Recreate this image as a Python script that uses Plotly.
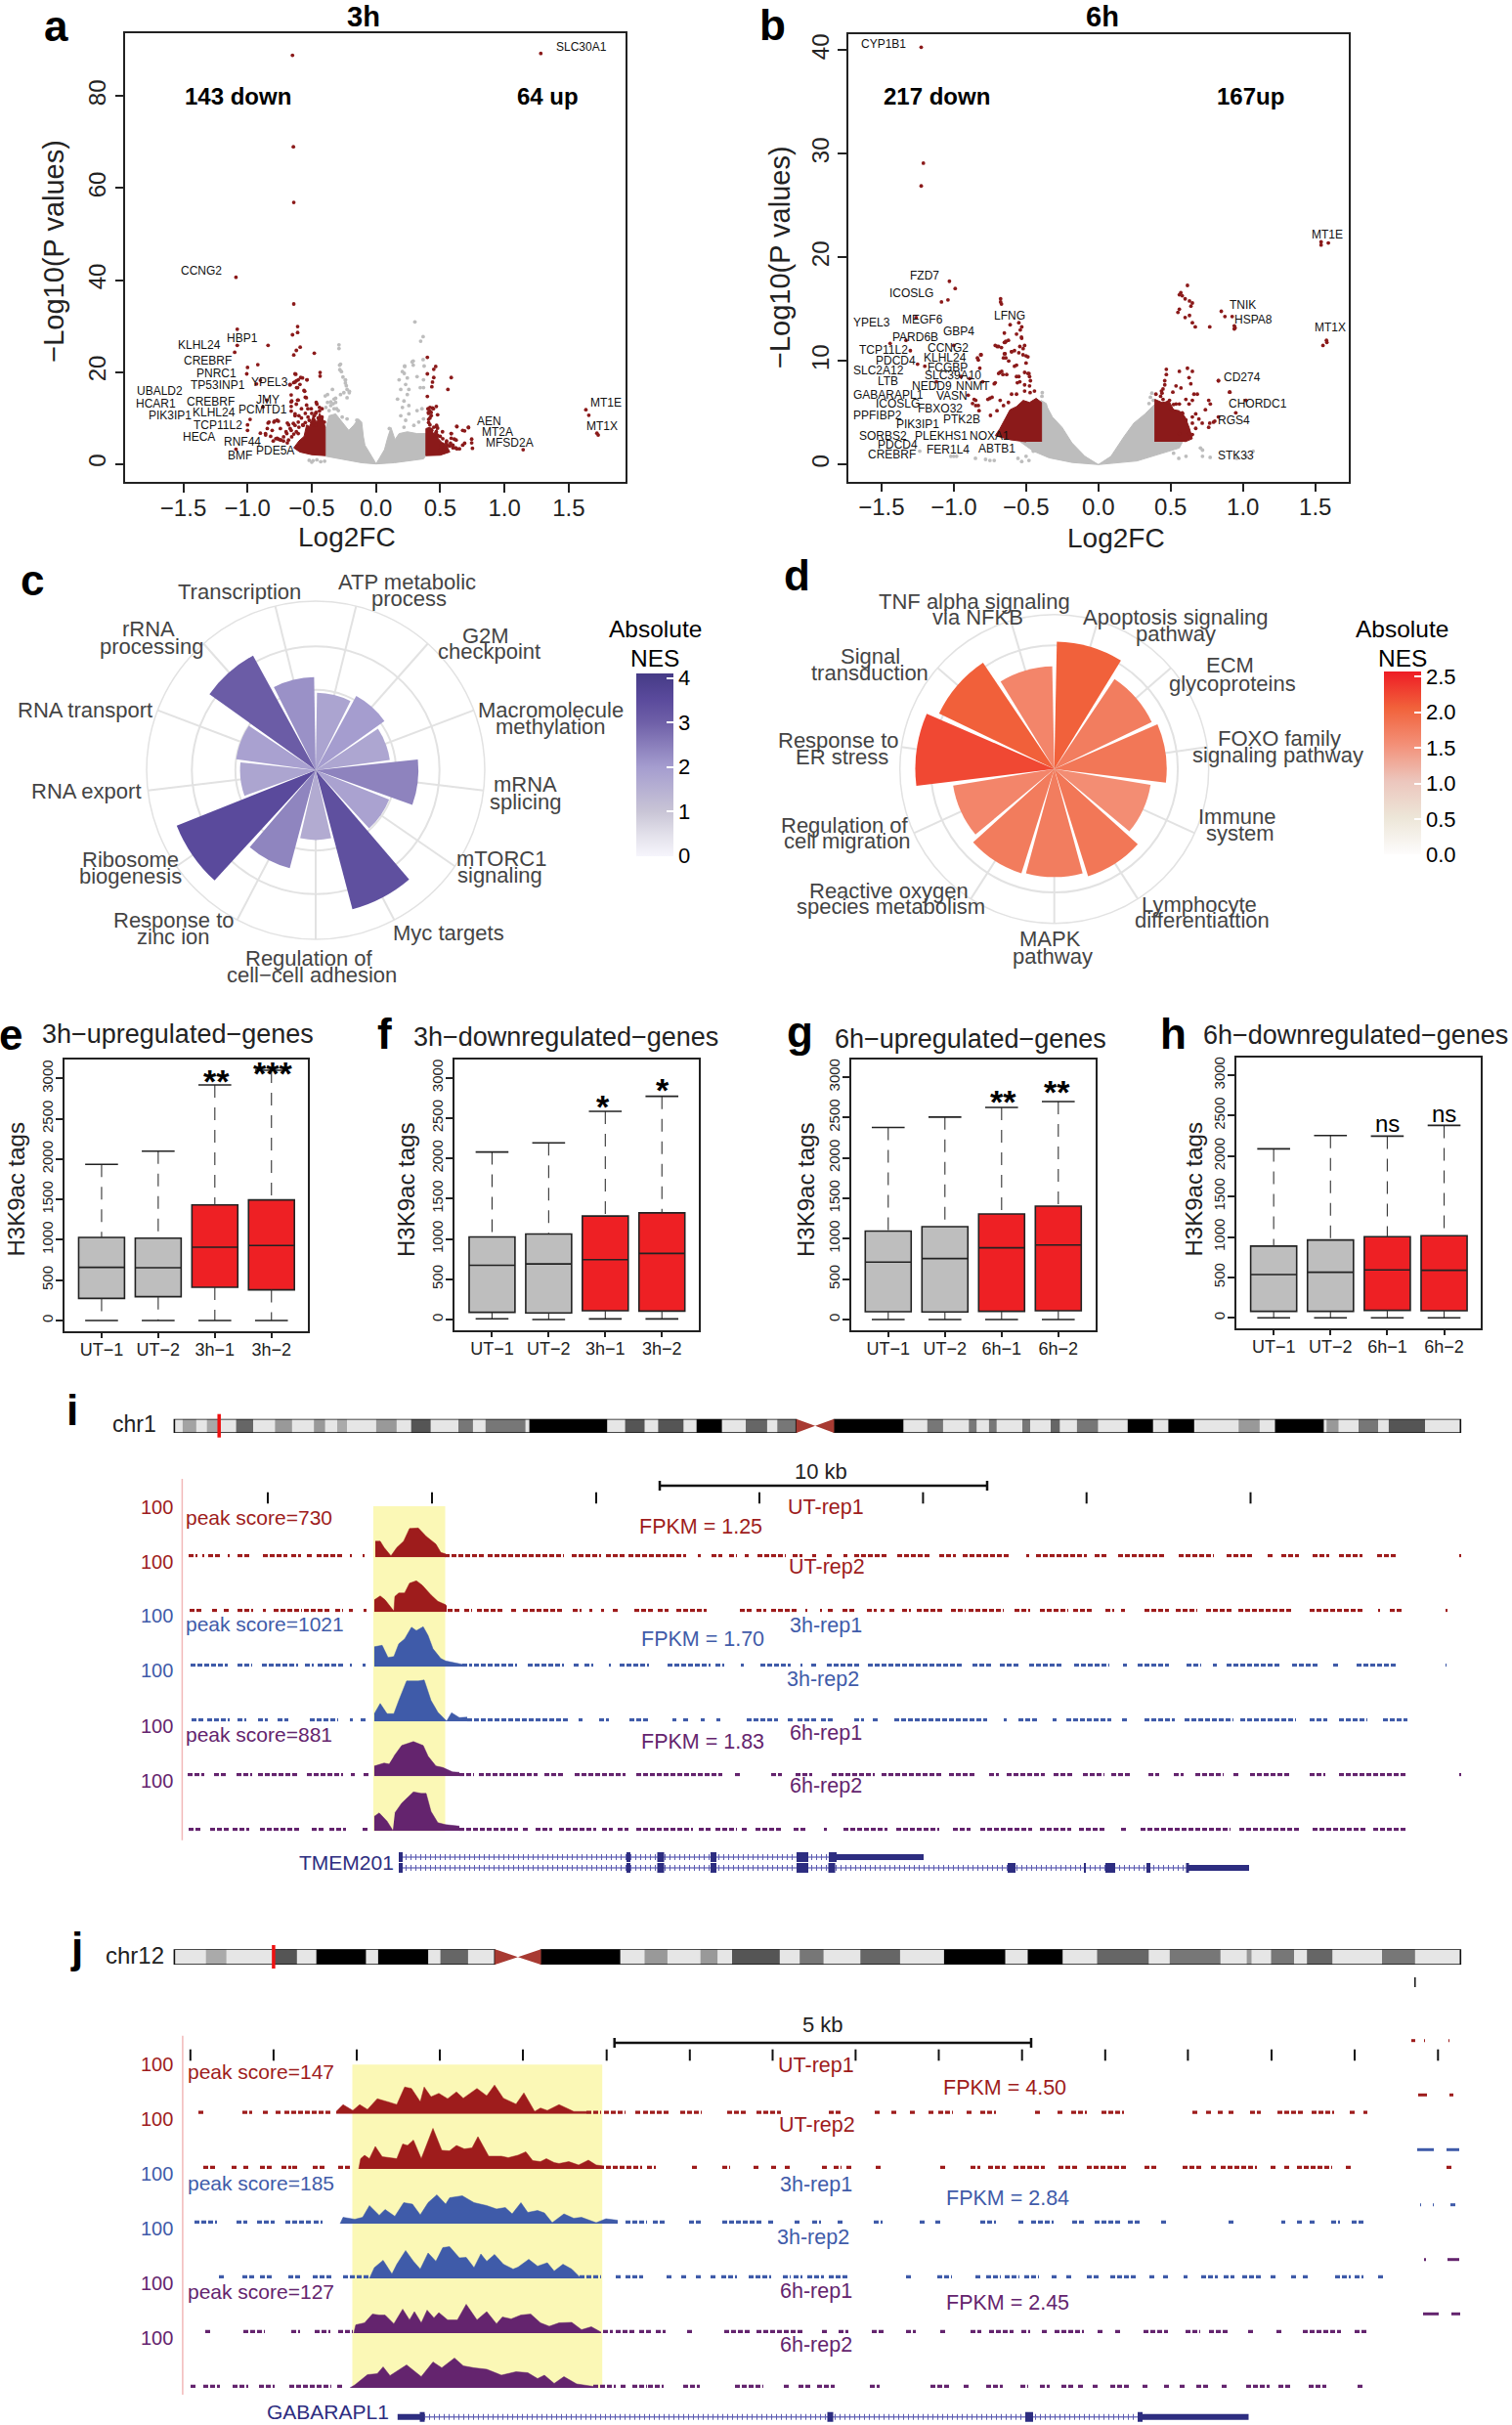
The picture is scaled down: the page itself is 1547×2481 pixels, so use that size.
import plotly.graph_objects as go

W, H = 1547, 2481
FONT = "Liberation Sans"
DARK_RED = "#8b1a1a"
GREY = "#bdbdbd"
TRED, TBLUE, TPURPLE = "#9e1c1c", "#3f5ba9", "#64246e"
GENE = "#2d2d80"

# ---------------- panel a : volcano 3h ----------------
a_red_x = [-.65,1.283,-.643,-.64,-1.09,-.64,-1.08,-.61,-.61,-.65,-1.08,-.84,-.59,-.62,-.48,-1.10,-.64,-.92,-1.0,-1.006,-.435,-.435,-.63,-.586,-.537,-.9,-.93,-.62,-.64,-.67,-.61,-.56,-.66,-.55,-.66,-.61,-.54,-.465,
           -.98,-1.0,-1.0,-.84,-.79,-.76,-.9,-.86,-.82,-.76,-.69,-1.09,-.88,-.85,-.63,-.69,-.66,
           -.42,-.44,-.46,-.47,-.45,-.43,-.48,-.5,-.53,-.55,-.52,-.5,-.47,-.55,-.57,-.58,-.6,-.62,-.64,-.6,-.66,-.68,-.7,-.72,-.74,-.78,-.8,-.66,-.62,-.58,
           .40,.465,.45,.40,.586,.45,.44,.435,.56,.40,.47,.405,.43,.48,.41,.63,.72,.69,.47,.586,.61,.745,.745,.69,1.146,1.634,1.657,1.72,1.73,.63,.575,.52,
           .42,.41,.43,.42,.41,.45,.48,.43,.47,.5,.52,.55,.48,.42,.56,.6,.58,.62,.65,.5,.53,.44,
           -.624,-.572,-.537,-.605,-.63,-.592,-.668,-.618,-.555,-.656,-.605,-.542,-.44,-.466,-.504,-.529,-.63,-.605,-.643,-.77,-.795,-.846,-.833,-.808,-.744,-.668,-.63,-.567,-.605,-.656,-.694,-.719,-.744,-.77,-.681,-.859,-.42,-.436,-.491,-.504,-.402,
           .421,.447,.408,.472,.518,.586,.629,.72,.675,.586,.624,.675,.751,.51,.548,.599,.472,.434]
a_red_y = [88.9,89.3,69,56.9,40.6,34.8,29.3,29.9,28.6,28.1,25.8,25.8,25.4,24.7,24.1,24.3,23.7,21.6,21,19.6,19.9,19.1,19.6,18.8,18.3,18.2,17.4,18.1,17.7,17.2,16.6,16,15,14.5,13.5,13.9,12.8,13.4,
           9.7,8.5,7.3,8.9,9.3,9.3,6.7,6.6,6,5.4,4.6,3.2,12.4,13.9,10.9,8.9,7.3,
           12,11.5,13,11,10,9.5,10.5,11,12,11,9.5,9,8.5,9,8.5,10,8,7,6.5,10.5,11.5,8.5,7,5,5.2,5.5,5,12.5,13,12,
           23.2,21.2,20.6,19.6,18.8,18.8,17.8,16.8,16.2,14.7,12.5,12,11.2,10.7,9.7,8.1,7.9,7.2,8.1,6.6,5.4,5.4,4.6,4.5,3.1,11.8,10.6,6.7,6.3,3.3,3.9,4.3,
           11.5,11,10.5,10,9,8,7.8,7.5,7,6,5.5,5,6.2,8.5,4,3.5,4.5,3.5,3.3,3,3.1,12.2,
           19.5,18.7,18.3,18.3,17.8,17.3,17.3,16.6,15.8,13.7,13.9,14.4,12.3,11.2,12,10.2,10.5,9.1,8.8,9.5,9.1,7.7,9.1,7.3,7.7,7.7,8.4,8.4,6.6,5.9,6.6,5.9,5.2,5.6,5.2,6.3,10.2,9.8,9.5,8.4,9.1,
           12.3,12,11.2,8.4,7,6.6,8.2,8,7.3,5.6,5.2,4.1,3.4,4.1,4.5,4.1,6.3,7.3]
a_grey_env_x = [0,-.035,-.086,-.098,-.111,-.136,-.174,-.212,-.263,-.314,-.365,-.395,-.395,-.288,-.111,0,.142,.37,.389,.389,.32,.244,.18,.148,.117,.092,.066,.028,0]
a_grey_env_y = [.1,1.7,4.1,5.9,9.1,9.8,8.4,7.3,9.1,10.9,10.5,7.3,1.7,1.1,.25,0,.25,1.1,1.8,6.6,6.6,7,6.6,5.3,7.9,5.8,3.1,1.3,0]
a_grey_x = [-.288,-.288,-.276,-.269,-.257,-.238,-.231,-.208,-.314,-.352,-.276,-.333,-.306,
            -.283,-.281,-.238,-.238,-.225,-.207,-.25,-.225,-.339,-.377,-.395,-.326,-.377,-.352,-.314,-.39,-.365,-.326,-.293,-.263,-.149,-.225,
            -.52,-.49,-.46,-.43,-.4,-.5,
            .303,.367,.348,.29,.224,.206,.282,.18,.244,.32,.37,.231,.193,.256,.345,.37,.168,.218,.244,.206,.256,.193,.231,.256,.32,.358,.37,.333,.295,.218,.104,.117,.29,.223,.22,.367,.375]
a_grey_y = [25.9,25.1,21.7,20.1,18.9,18.2,17,15.5,14.3,13.5,15.1,13.1,12,
            21.5,20.5,18.3,17.6,16.2,15.8,15.5,14.4,16.2,15.1,14.8,14.1,13.4,12.7,13.4,12.3,11.6,12,11.6,10.2,9.5,9.8,
            .8,.7,.9,.5,.6,.4,
            30.9,27.7,26.7,22.4,21.2,20.1,22.2,18.3,18.7,19,18.3,17.3,16.2,16.2,16.6,16.6,14.1,13.7,15.1,12.3,12.7,10.5,9.5,10.9,11.6,12,9.8,9.1,8.4,8,7.7,6.6,21.5,21.3,19.7,22.7,21.3]
a_redL_env_x = [-.395,-.395,-.415,-.44,-.46,-.49,-.51,-.54,-.56,-.6,-.64,-.593,-.5,-.395]
a_redL_env_y = [1.8,8,10,11,9,10.5,8,8.5,6,5,3.5,2.6,2,1.8]
a_redR_env_x = [.389,.389,.42,.45,.47,.485,.52,.55,.575,.5,.389]
a_redR_env_y = [1.8,7.7,8,6.5,7.5,5.5,4.5,4,2.6,1.9,1.8]
a_genes = [("SLC30A1",594.5,48.4),("CCNG2",206,277),("HBP1",247.8,346),("KLHL24",204,353.5),("CREBRF",212,369.5),("PNRC1",221.4,382.5),
           ("YPEL3",276,391),("TP53INP1",222.9,393.8),("UBALD2",163,400),("JMY",273.6,409),("CREBRF",215.4,411),("HCAR1",159.7,413.5),
           ("PCMTD1",268.7,419.3),("PIK3IP1",174,424.7),("KLHL24",219,421.8),("TCP11L2",222.9,435.3),("HECA",203.5,447.3),("RNF44",247.8,452),
           ("PDE5A",281,461),("BMF",245.8,465.8),("MT1E",620.4,412),("MT1X",616.4,435.6),("AEN",500,430.5),("MT2A",509,441.8),("MFSD2A",521.4,453)]

# ---------------- panel b : volcano 6h ----------------
b_red_x = [-1.225,-1.21,-1.225,1.54,1.54,1.59,-1.03,-.99,-1.04,-1.085,-.676,-.676,-.67,-1.26,1.577,1.58,1.553,
           .616,.57,.58,.56,.6,.63,.65,.64,.56,.55,.6,.63,.65,.67,.77,.85,.875,.925,.94,.94,.945,.83,.907,1.02,.95,.805,.77,
           -.61,-.55,-.53,-.54,-.65,-.53,-.64,-.65,-.7,-.67,-.58,-.52,-.6,-.55,-.65,-.5,-.64,-.62,-.5,-.58,-.68,-.66,-.51,-.48,-.72,-.55,-.47,-.56,
           -.81,-.83,-.82,-.89,-.95,-.8,-.87,-.83,-.75,-.9,-1.0,-1.33,-1.44,-1.3,-1.25,-1.2,-1.12,
           -.442,-.472,-.51,-.566,-.6,-.622,-.679,-.735,-.764,-.848,-.848,-.859,-.825,-.746,-.701,-.656,-.476,-.51,-.566,-.543,-.487,-.476,-.634,-.668,-.69,-.713,-.566,-.521,-.487,-.6,-.645,-.656,-.713,-.69,-.645,-.622,-.543,-.51,-.532,-.566,-.814,-.836,
           .47,.47,.459,.459,.447,.436,.398,.56,.616,.65,.627,.639,.537,.571,.515,.661,.684,.763,.774,.605,.65,.627,.447,.492,.56,.74,.673,.695,.65,.718,.763,.796,.83,.673,.65,.627,.605,.582,.537,.515,.83,.909,.5,.65,.56,.43,.48,.52,.58,.44]
b_red_y = [40.3,29.1,26.9,21.5,21.2,21.4,17.7,17,15.9,15.7,16,15.7,15.5,14.2,12,11.8,11.5,
           17.3,16.6,16.3,16.4,16,15.8,15.6,15.3,15,14.7,14.2,14.4,13.7,13.3,13.3,14.8,14.3,14.3,13.4,13.1,13.2,8.1,7,6.2,5,4.2,4,
           13.5,13.7,13.3,13,12.7,12.2,11.9,11.8,11.4,11.3,11,11.2,10.9,10.8,10.7,10.5,10.3,10,9.8,9.5,8.9,8.7,8.9,8.8,7.8,8.5,8.1,7.9,
           10.6,10.1,9.3,8.3,8.5,8,5.9,5.7,6.4,6.7,11.5,12,11.7,11,9.7,9.5,8,
           7.1,6.95,7.1,6.8,6.8,6,6.2,6.5,6.3,6.2,5.7,6.3,5.2,4.75,5.2,5.7,7.6,7.7,8.5,8,8.8,8.5,8.7,9,8.8,7.9,9.6,10.6,10.4,10.9,10.7,10.3,11.5,11.4,11.8,12,11.4,11.5,12.3,12.6,10.6,10.3,
           9.2,8.7,8.1,7.7,7.3,7.1,6.8,9,9.3,9,8.4,7.8,7.6,7.4,7,6.8,6.8,6.2,5.85,6.3,6.2,5.85,6.3,6.2,5.85,5.3,4.9,4.4,4.6,4,3.6,4.1,4.6,3.5,2.9,3,4.3,4.9,5.85,5.2,8.1,7,5.4,4,3,6.6,6,5.8,5,6.9]
b_grey_env_x = [0,-.093,-.183,-.251,-.318,-.352,-.36,-.397,-.397,-.54,-.45,-.34,-.18,0,.267,.447,.56,.582,.391,.391,.323,.245,.177,.087,0]
b_grey_env_y = [0,.8,2.1,3.6,4.6,5.5,5.9,6.2,2.2,2.2,1.3,.65,.2,0,.35,1.1,1.6,2.2,2.2,5.85,4.9,4,2.7,.8,0]
b_grey_x = [-.48,-.75,-.85,-1,-.556,-.45,.72,.72,1.07,.606,.52,.706,.556,1.024,.773,-1.235,.957,-.78,-.72,-.98,-1.02,-.53,-.5,-.388,-.39,.37,.36,.38,.35]
b_grey_y = [.4,.4,.6,.8,.6,1.3,.8,1.4,1.3,.8,1.1,1.6,.6,.8,.7,1.3,.6,.5,.4,.8,.8,.3,.8,6.95,6.6,6.9,6.5,6.2,5.9]
b_redL_env_x = [-.393,-.393,-.43,-.476,-.52,-.566,-.611,-.65,-.68,-.713,-.611,-.5]
b_redL_env_y = [2.2,6,6.4,6,6.2,5.6,5.3,4.2,3.5,2.8,2.4,2.2]
b_redR_env_x = [.391,.391,.44,.49,.52,.56,.6,.63,.65,.6]
b_redR_env_y = [2.2,6.3,6,6.1,5.3,5.2,4.6,3.5,2.5,2.2]
b_genes = [("CYP1B1",903.8,45),("MT1E",1358.2,240),("FZD7",946.4,281.8),("ICOSLG",932.5,299.6),("TNIK",1271.5,312),("LFNG",1032.6,322.5),
           ("MEGF6",944,326.5),("HSPA8",1282.9,326.5),("YPEL3",891.9,330.2),("MT1X",1361.2,335.3),("GBP4",980.6,338.5),("PARD6B",937,345),
           ("CCNG2",969.7,356.4),("TCP11L2",904.3,357.5),("KLHL24",966.7,366.2),("PDCD4",916.7,368.7),("FCGBP",969.7,375.6),("SLC2A12",898.8,379.3),
           ("SLC39A10",975.2,384.4),("CD274",1270.5,386.2),("LTB",908.3,389.5),("NEDD9",953.8,394.9),("NNMT",995.5,394.9),("GABARAPL1",908.8,403.6),
           ("VASN",973.7,404.7),("ICOSLG",918.7,412.7),("CHORDC1",1286.8,413.5),("FBXO32",962.3,418.2),("PPFIBP2",897.8,425.5),("PTK2B",983.6,429),
           ("RGS4",1262,430.2),("PIK3IP1",939.5,434.5),("SORBS2",903.8,446.2),("PLEKHS1",963.3,446.2),("NOXA1",1012.8,446.5),("PDCD4",918.7,455.3),
           ("ABTB1",1019.8,458.9),("FER1L4",969.7,460),("CREBRF",912.2,465.5),("STK33",1264,465.8)]

# ---------------- panels c, d : polar bars ----------------
c_terms = ["ATP metabolic process","G2M checkpoint","Macromolecule methylation","mRNA splicing","mTORC1 signaling","Myc targets",
           "Regulation of cell-cell adhesion","Response to zinc ion","Ribosome biogenesis","RNA export","RNA transport","rRNA processing","Transcription"]
c_nes = [1.83,2.0,1.77,2.43,1.87,3.4,1.65,2.4,3.54,1.79,1.9,3.09,2.2]
d_terms = ["Apoptosis signaling pathway","ECM glycoproteins","FOXO family signaling pathway","Immune system","Lymphocyte differentiattion","MAPK pathway",
           "Reactive oxygen species metabolism","Regulation of cell migration","Response to ER stress","Signal transduction","TNF alpha signaling via NFKB"]
d_nes = [2.06,1.75,1.82,1.58,1.82,1.75,1.77,1.66,2.25,2.07,1.66]
c_labels = [("Transcription",244.6,605.7),("ATP metabolic",416.5,595),("process",419,612.3),("G2M",497,650),("checkpoint",500,666.7),
            ("Macromolecule",563.9,726.7),("methylation",563.9,743.3),("mRNA",537.8,802.3),("splicing",537.8,820.7),("mTORC1",513.3,878.3),
            ("signaling",511.8,895.7),("Myc targets",459.2,955),("Regulation of",316.8,980.7),("cell\u2212cell adhesion",319.3,997.7),
            ("Response to",177.8,941),("zinc ion",177.8,958.3),("Ribosome",133,879.3),("biogenesis",133,896.7),("RNA export",88.9,809),
            ("RNA transport",87.4,726.7),("rRNA",152.3,644),("processing",155.2,661.7)]
d_labels = [("TNF alpha signaling",997,615),("via NFKB",1000,631.3),("Apoptosis signaling",1202.6,631.7),("pathway",1202.6,648.3),("ECM",1258,681),
            ("glycoproteins",1260.6,699.3),("FOXO family",1308.7,755),("signaling pathway",1307.7,772.3),("Immune",1265.5,835.7),("system",1268.5,852.7),
            ("Lymphocyte",1226.9,925),("differentiattion",1229.9,941.7),("MAPK",1074.3,960.7),("pathway",1077.2,978.3),("Reactive oxygen",909.2,911.3),
            ("species metabolism",911.7,927.7),("Regulation of",864.2,844),("cell migration",866.6,860.3),("Response to",858.2,757.7),("ER stress",861.7,774.3),
            ("Signal",890.4,671),("transduction",890.4,688.3)]

# ---------------- panels e-h : box plots ----------------
e_cats = ["UT\u22121","UT\u22122","3h\u22121","3h\u22122"]
e_low = [0,0,0,0]; e_q1 = [274,295,412,380]; e_med = [658,654,908,929]; e_q3 = [1030,1021,1433,1494]; e_up = [1934,2099,2919,3100]
f_low = [10,0,8,8]; f_q1 = [89,81,109,105]; f_med = [674,690,743,820]; f_q3 = [1025,1062,1284,1324]; f_up = [2079,2192,2584,2770]
g_cats = ["UT\u22121","UT\u22122","6h\u22121","6h\u22122"]
g_low = [0,0,0,0]; g_q1 = [97,93,101,109]; g_med = [710,754,887,923]; g_q3 = [1094,1150,1306,1403]; g_up = [2377,2506,2625,2698]
h_low = [0,0,0,0]; h_q1 = [81,81,93,89]; h_med = [536,564,592,588]; h_q3 = [887,963,1003,1016]; h_up = [2089,2254,2246,2379]

# ---------------- panel i : chr1 browser ----------------
chr1_start = [186.9,211.7,241.6,281.4,321.2,345,384.9,420.7,469,496.8,541.6,639.6,673.4,712.7,763,795.3,853.4,948.8,991.3,1011.9,1046,1075,1101.9,1153.8,1195.4,1267.3,1304.5,1357.3,1390,1420.9]
chr1_end   = [200.8,224.2,259,298.8,332.6,355,405.8,440.6,483.9,537.6,621.2,659.5,699.3,738.6,784.9,814.7,924.3,964.9,999.2,1019.7,1054,1084.3,1123.4,1179.7,1221.8,1288.8,1354.4,1369.5,1410,1458]
chr1_col   = ["#a3a3a3","#a8a8a8","#666666","#999999","#999999","#aaaaaa","#999999","#555555","#777777","#777777","#000000","#555555","#555555","#000000","#666666","#777777","#000000","#777777","#777777","#777777","#777777","#666666","#777777","#000000","#000000","#999999","#000000","#999999","#777777","#555555"]
i_ticks = [274,442,610,777,944.4,1111.7,1279.5]
i1_seg = [(193,202),(207,209),(213,225),(233,235),(243,257),(269,294),(298,308),(314,321),(324,336),(338,351),(358,360),(371,373),(455,495),(499,577),(585,615),(620,640),(643,702),(714,717),(728,739),(746,754),(762,766),(775,804),(811,821),(831,835),(846,851),(863,867),(874,908),(918,952),(961,978),(985,1034),(1050,1053),(1060,1112),(1120,1133),(1144,1193),(1206,1242),(1255,1281),(1297,1302),(1311,1329),(1343,1360),(1370,1394),(1409,1430),(1493,1495)]
i2_seg = [(194,208),(217,222),(229,234),(243,259),(269,272),(280,309),(311,338),(343,351),(357,361),(372,375),(458,470),(475,483),(488,515),(523,529),(535,577),(586,595),(603,606),(615,618),(627,632),(649,668),(673,684),(692,723),(757,769),(774,784),(789,816),(824,826),(839,841),(847,852),(862,874),(887,897),(901,905),(910,917),(923,932),(938,965),(973,988),(991,1027),(1038,1054),(1064,1093),(1098,1119),(1131,1140),(1147,1151),(1171,1196),(1203,1225),(1234,1260),(1267,1321),(1340,1395),(1410,1412),(1422,1436),(1479,1481)]
i3_seg = [(195,233),(243,258),(268,305),(312,321),(325,351),(358,360),(371,374),(473,483),(485,529),(540,577),(587,592),(598,607),(623,625),(634,664),(683,727),(732,741),(758,761),(778,809),(819,821),(830,835),(846,880),(888,985),(995,1014),(1023,1042),(1053,1087),(1099,1135),(1149,1153),(1164,1196),(1214,1229),(1241,1245),(1255,1311),(1322,1350),(1364,1370),(1388,1430),(1479,1480)]
i4_seg = [(196,209),(212,235),(243,252),(264,274),(284,295),(317,346),(358,361),(369,376),(478,583),(592,596),(613,623),(644,664),(688,692),(699,706),(717,721),(733,737),(764,796),(806,811),(816,836),(840,853),(874,884),(893,900),(915,1010),(1027,1030),(1042,1061),(1077,1081),(1091,1137),(1148,1153),(1171,1202),(1212,1262),(1269,1326),(1340,1358),(1370,1399),(1415,1440)]
i5_seg = [(192,209),(219,232),(242,258),(264,306),(314,351),(359,363),(372,377),(470,485),(490,550),(557,578),(588,640),(651,739),(752,757),(789,800),(814,831),(851,895),(902,963),(971,998),(1012,1022),(1030,1069),(1078,1098),(1108,1130),(1137,1156),(1175,1186),(1201,1211),(1223,1252),(1262,1268),(1279,1321),(1340,1356),(1370,1440),(1493,1495)]
i6_seg = [(193,205),(215,234),(238,255),(266,308),(319,333),(337,354),(371,377),(470,530),(535,540),(548,565),(572,610),(616,627),(632,643),(651,709),(715,728),(732,754),(759,766),(773,801),(812,826),(843,846),(863,908),(917,961),(975,993),(1003,1056),(1064,1096),(1104,1130),(1147,1154),(1167,1259),(1268,1330),(1343,1399),(1405,1440)]
i1_px = [384,389,393,400,406,413,419,428,436,446,451,456]
i1_py = [33,33,20,3,20,33,59,60,43,27,10,7]
i2_px = [383,389,394,403,404,408,414,419,426,432,441,448,456,457]
i2_py = [25,33,25,2,32,39,39,59,64,55,35,22,15,12]
i3_px = [383,391,397,403,408,414,421,426,433,438,443,451,456,465,473]
i3_py = [41,44,19,21,47,57,81,74,82,64,37,17,12,9,5]
i4_px = [383,389,396,403,408,416,428,434,441,448,457,462,470,478]
i4_py = [16,37,16,16,43,83,83,85,43,19,1,18,8,9]
i5_px = [383,393,398,None,403,411,423,433,438,446,453,463,470]
i5_py = [21,27,25,None,41,63,71,63,41,21,18,9,8]
i6_px = [383,388,396,402,None,404,411,423,431,436,441,448,456,470]
i6_py = [30,37,20,1,None,37,57,80,77,77,40,17,13,10]
tm_row1_exons = [410,643,676,730,821,852]
tm_row1_widths = [4,4,7,6,12,8]
tm_row2_exons = [410,643,676,730,821,851,1035,1110,1136,1175,1215]
tm_row2_widths = [4,4,7,6,12,7,8,2,10,4,3]

# ---------------- panel j : chr12 browser ----------------
chr12_start = [210.7,279.9,323.7,386.9,450.6,553.5,659.5,716.7,749,818.2,880.3,965.9,1051.5,1122.5,1196.8,1275.6,1300.5,1337.2,1414]
chr12_end   = [231.6,303.8,374.4,438.1,478.9,634.6,682.9,734.1,797.8,842.6,920.9,1028.5,1087.2,1175.3,1248.7,1280.5,1324,1363.2,1447.8]
chr12_col   = ["#aaaaaa","#555555","#000000","#000000","#666666","#000000","#999999","#999999","#555555","#777777","#666666","#000000","#000000","#666666","#777777","#999999","#777777","#666666","#777777"]
j_ticks = [194.8,279.9,365,450,535,620.7,705.8,790.5,875.4,960.5,1045.7,1130.8,1215.4,1301,1386,1471.3]
j1_seg = [(203,209),(248,258),(269,275),(282,288),(291,324),(326,339),(600,615),(618,640),(650,655),(658,684),(696,718),(744,764),(774,799),(848,862),(895,901),(912,918),(931,937),(950,956),(960,975),(989,995),(1003,1019),(1059,1065),(1082,1088),(1096,1112),(1127,1150),(1220,1226),(1234,1239),(1246,1251),(1257,1263),(1279,1290),(1307,1333),(1342,1365),(1381,1387),(1395,1399)]
j2_seg = [(208,222),(237,242),(249,255),(266,279),(288,298),(299,306),(320,333),(346,360),(620,657),(662,671),(708,714),(739,747),(771,777),(789,796),(803,810),(841,848),(853,861),(866,871),(896,903),(962,969),(993,1003),(1011,1029),(1037,1069),(1083,1103),(1112,1154),(1171,1184),(1210,1230),(1239,1245),(1249,1286),(1300,1306),(1314,1321),(1327,1363),(1377,1383),(1480,1485)]
j3_seg = [(199,222),(242,253),(263,281),(292,318),(321,330),(640,662),(668,682),(705,719),(739,781),(786,792),(813,819),(831,840),(857,863),(894,903),(941,946),(957,962),(1003,1019),(1042,1048),(1055,1078),(1097,1110),(1120,1148),(1154,1167),(1188,1194),(1257,1262),(1311,1315),(1327,1332),(1340,1345),(1362,1371),(1383,1395)]
j4_seg = [(224,229),(248,260),(266,279),(295,307),(320,339),(351,378),(593,615),(630,636),(640,658),(682,689),(697,703),(712,717),(727,733),(738,754),(766,789),(801,809),(812,821),(826,843),(848,869),(927,933),(959,974),(998,1003),(1009,1024),(1028,1043),(1048,1063),(1076,1083),(1091,1098),(1112,1125),(1136,1164),(1176,1182),(1190,1196),(1211,1215),(1229,1246),(1252,1263),(1271,1292),(1300,1306),(1321,1326),(1333,1340),(1366,1382),(1386,1395),(1410,1415)]
j5_seg = [(210,217),(249,271),(298,307),(322,338),(346,361),(617,627),(630,650),(654,667),(671,681),(703,708),(741,769),(774,823),(841,846),(858,868),(892,906),(927,937),(962,968),(993,1004),(1012,1037),(1045,1054),(1066,1073),(1079,1109),(1123,1130),(1141,1147),(1170,1195),(1213,1228),(1237,1257),(1277,1283),(1306,1313),(1333,1372),(1386,1399)]
j6_seg = [(195,202),(208,225),(238,254),(265,281),(296,339),(345,350),(607,630),(635,642),(647,662),(663,679),(699,716),(752,781),(802,809),(817,831),(836,854),(890,900),(952,971),(986,993),(1009,1026),(1044,1052),(1064,1074),(1086,1098),(1103,1109),(1118,1125),(1136,1157),(1169,1175),(1191,1197),(1207,1213),(1224,1237),(1250,1257),(1275,1299),(1308,1320),(1339,1357),(1389,1396)]
j1_px = [344,351,361,368,376,386,398,406,414,421,430,434,441,449,458,467,474,488,498,506,515,528,536,547,553,560,572,587,600]
j1_py = [5,19,7,19,9,31,24,19,55,52,25,55,35,42,31,45,32,52,37,59,32,20,43,5,12,7,19,5,5]
j2_px = [367,369,373,378,384,391,406,412,417,423,431,443,452,460,467,475,483,489,500,513,520,530,538,545,553,559,567,572,582,592,602,610,618]
j2_py = [0,21,28,21,46,25,21,51,48,59,21,83,38,37,48,41,43,66,26,26,23,28,35,17,15,21,13,11,15,8,18,8,6]
j3_px = [348,351,363,371,378,388,394,404,413,422,430,438,447,456,460,473,485,498,508,517,524,533,540,550,557,565,577,587,595,610,620,632]
j3_py = [0,13,9,13,37,17,29,15,43,40,18,43,59,40,53,57,43,37,30,33,20,43,23,27,22,2,20,11,13,2,10,7]
j4_px = [378,383,392,401,406,415,423,430,438,446,453,460,470,477,485,492,498,506,515,525,530,541,550,560,567,576,585,593]
j4_py = [0,22,37,9,29,57,35,19,52,35,63,65,42,43,22,50,35,49,29,19,23,39,25,32,15,29,19,3]
j5_px = [362,364,373,381,388,394,403,412,419,424,431,437,444,449,458,468,477,488,498,508,514,523,533,543,553,562,572,585,595,605,615]
j5_py = [0,17,21,39,37,37,19,49,27,44,21,47,31,42,27,27,59,27,44,19,33,29,37,39,21,14,21,22,7,13,2]
j6_px = [358,363,376,386,392,399,416,431,443,452,465,474,485,498,513,528,540,550,557,567,577,590,607]
j6_py = [0,6,27,29,43,25,47,23,53,41,61,45,41,38,26,33,31,19,26,9,23,8,3]
j_far_rows = [2087.7,2143.3,2199.3,2255.7,2311.7,2367.3]
j_far_seg = [[(1444,1448),(1457,1458),(1482,1483)],[(1451,1460),(1483,1487)],[(1450,1467),(1480,1493)],[(1453,1454),(1466,1467),(1484,1489)],[(1457,1459),(1481,1493)],[(1456,1472),(1485,1494)]]
gab_exons = [432,849.5,1053,1166.5]
gab_widths = [5,6,8,5]

# ===================== helpers =====================
fig = go.Figure()
layout = {}
ann = []
shapes = []
_n = [1]

def axes(x0, x1, top, bot, xr, yr, xo=None, yo=None, share_x=None):
    _n[0] += 1
    n = _n[0]
    yname = f"yaxis{n}"
    base = dict(showgrid=False, zeroline=False, visible=False)
    if share_x:
        layout[yname] = dict(base, domain=[1 - bot / H, 1 - top / H], range=yr, anchor=share_x)
        if yo: layout[yname].update(yo)
        return share_x, f"y{n}"
    layout[f"xaxis{n}"] = dict(base, domain=[x0 / W, x1 / W], range=xr, anchor=f"y{n}")
    layout[yname] = dict(base, domain=[1 - bot / H, 1 - top / H], range=yr, anchor=f"x{n}")
    if xo: layout[f"xaxis{n}"].update(xo)
    if yo: layout[yname].update(yo)
    return f"x{n}", f"y{n}"

def T(s, x, y, size, color="#000000", bold=False, rot=0, anchor="center"):
    ann.append(dict(text=f"<b>{s}</b>" if bold else s, x=x / W, y=1 - y / H, xref="paper", yref="paper",
                    xanchor=anchor, yanchor="middle", showarrow=False, textangle=rot, borderpad=0, borderwidth=0,
                    font=dict(family=FONT, size=size, color=color)))

def frame_axis(tickvals, ticktext=None, size=24, ticklen=9, angle=None, standoff=0):
    d = dict(visible=True, showline=True, mirror=True, linecolor="#222222", linewidth=1.5, ticks="outside",
             tickcolor="#222222", tickwidth=1.5, ticklen=ticklen, tickvals=tickvals, ticklabelstandoff=standoff,
             tickfont=dict(family=FONT, size=size, color="#222222"))
    if ticktext is not None:
        d["ticktext"] = ticktext
    if angle is not None:
        d["tickangle"] = angle
    return d

def volcano(box, xr, yr, yt, env_g, pts_g, envs_r, pts_r):
    xa, ya = axes(box[0], box[1], box[2], box[3], xr, yr,
                  frame_axis([-1.5, -1, -.5, 0, .5, 1, 1.5], ["\u22121.5", "\u22121.0", "\u22120.5", "0.0", "0.5", "1.0", "1.5"], standoff=-5),
                  frame_axis(yt, angle=-90))
    fig.add_trace(go.Scatter(x=env_g[0], y=env_g[1], mode="lines", fill="toself", fillcolor=GREY, line=dict(color=GREY, width=1), xaxis=xa, yaxis=ya, showlegend=False))
    fig.add_trace(go.Scatter(x=pts_g[0], y=pts_g[1], mode="markers", marker=dict(size=3.8, color=GREY), xaxis=xa, yaxis=ya, showlegend=False))
    for ex, ey in envs_r:
        fig.add_trace(go.Scatter(x=ex, y=ey, mode="lines", fill="toself", fillcolor=DARK_RED, line=dict(color=DARK_RED, width=1), xaxis=xa, yaxis=ya, showlegend=False))
    fig.add_trace(go.Scatter(x=pts_r[0], y=pts_r[1], mode="markers", marker=dict(size=3.8, color=DARK_RED), xaxis=xa, yaxis=ya, showlegend=False))

def polar(name, terms, vals, rmax, grid, cx, cy, r, scale, cmax, cb_x, cb_top, cb_bot, ticks, ticktext):
    n = len(terms)
    step = 360 / n
    centers = [(i + .5) * step for i in range(n)]
    fig.add_trace(go.Barpolar(theta=centers, r=vals, width=[step * .93] * n, text=terms, subplot=name, showlegend=False,
                              marker=dict(color=vals, colorscale=scale, cmin=0, cmax=cmax, line=dict(width=0), showscale=True,
                                          colorbar=dict(x=cb_x / W, xanchor="left", y=1 - cb_bot / H, yanchor="bottom", thicknessmode="pixels", thickness=38,
                                                        lenmode="pixels", len=cb_bot - cb_top, xpad=0, ypad=0, outlinewidth=0, ticks="inside", tickcolor="#ffffff",
                                                        tickwidth=1.5, ticklen=7, tickvals=ticks, ticktext=ticktext,
                                                        tickfont=dict(family=FONT, size=22, color="#000000")))))
    layout[name] = dict(domain=dict(x=[(cx - r) / W, (cx + r) / W], y=[1 - (cy + r) / H, 1 - (cy - r) / H]), bgcolor="rgba(0,0,0,0)",
                        angularaxis=dict(direction="clockwise", rotation=90, tickvals=centers, showticklabels=False, ticks="", showgrid=True,
                                         gridcolor="#e2e2e2", gridwidth=1.5, showline=True, linecolor="#e2e2e2", linewidth=1.5),
                        radialaxis=dict(range=[0, rmax], tickvals=grid, showticklabels=False, ticks="", showline=False, showgrid=True,
                                        gridcolor="#e2e2e2", gridwidth=1.5))

def boxpanel(x0, x1, top, bot, y0_px, y3k_px, cats, low, q1, med, q3, up):
    per = (y0_px - y3k_px) / 3000
    yr = [-(bot - y0_px) / per, (y0_px - top) / per]
    xa, ya = axes(x0, x1, top, bot, [-0.66, 3.65], yr,
                  dict(frame_axis([0, 1, 2, 3], cats, size=18, ticklen=6, standoff=-4), type="linear"),
                  frame_axis([0, 500, 1000, 1500, 2000, 2500, 3000], size=15, ticklen=7, angle=-90, standoff=-3))
    idx = [0, 1, 2, 3]
    for part, col in ((idx[:2], "#bebebe"), (idx[2:], "#ee2024")):
        fig.add_trace(go.Box(x=part, q1=[q1[i] for i in part], median=[med[i] for i in part], q3=[q3[i] for i in part],
                             lowerfence=[q1[i] for i in part], upperfence=[q3[i] for i in part], width=.81, fillcolor=col,
                             line=dict(color="#222222", width=1.6), xaxis=xa, yaxis=ya, showlegend=False, boxpoints=False, whiskerwidth=0))
    wx, wy = [], []
    for i in idx:
        wx += [i, i, None, i, i, None]
        wy += [up[i], q3[i], None, q1[i], low[i], None]
    fig.add_trace(go.Scatter(x=wx, y=wy, mode="lines", line=dict(color="#333333", width=1.1, dash="13px,10px"), xaxis=xa, yaxis=ya, showlegend=False))
    fig.add_trace(go.Scatter(x=idx * 2, y=list(up) + list(low), mode="markers", marker=dict(symbol="line-ew", size=24, line=dict(width=1.6, color="#222222")), xaxis=xa, yaxis=ya, showlegend=False))

# page-wide overlay axis used for the browser rulers and tracks
px_x, px_y = axes(0, W, 0, H, [0, W], [H, 0])

def ideogram(top, bot, start, end, col, cen0, cen1, mark, mark_top, mark_bot):
    _, ya = axes(0, 0, top, bot, None, [-.5, .5], share_x=px_x)
    L, R = 178.4, 1494.3
    fig.add_trace(go.Bar(y=[0, 0], base=[L, cen1], x=[cen0 - L, R - cen1], orientation="h", width=1, marker=dict(color="#e6e6e6", line=dict(width=0)), xaxis=px_x, yaxis=ya, showlegend=False))
    fig.add_trace(go.Bar(y=[0] * len(start), base=start, x=[b - a for a, b in zip(start, end)], orientation="h", width=1, marker=dict(color=col, line=dict(width=0)), xaxis=px_x, yaxis=ya, showlegend=False))
    fig.add_trace(go.Bar(y=[0, 0], base=[L, cen1], x=[cen0 - L, R - cen1], orientation="h", width=1, marker=dict(color="rgba(0,0,0,0)", line=dict(width=1.6, color="#111111")), xaxis=px_x, yaxis=ya, showlegend=False))
    cm = (cen0 + cen1) / 2
    fig.add_trace(go.Scatter(x=[cen0, cm, cen0, None, cen1, cm, cen1], y=[.5, 0, -.5, None, .5, 0, -.5], mode="lines", fill="toself", fillcolor="#a83a32", line=dict(width=0, color="#a83a32"), xaxis=px_x, yaxis=ya, showlegend=False))
    _, top_y = axes(0, 0, 0, H, None, [H, 0], share_x=px_x)
    fig.add_trace(go.Scatter(x=[mark, mark], y=[mark_top, mark_bot], mode="lines", line=dict(color="#ee1111", width=3.5), xaxis=px_x, yaxis=top_y, showlegend=False))

def track(base_px, color, seg, px, py):
    _, ya = axes(0, 0, base_px - 50, base_px, None, [0, 100], share_x=px_x)
    sx, sy = [], []
    for a, b in seg:
        sx += [a, b, None]
        sy += [3, 3, None]
    fig.add_trace(go.Scatter(x=sx, y=sy, mode="lines", line=dict(color=color, width=3.5, dash="5px,2px"), xaxis=px_x, yaxis=ya, showlegend=False))
    fig.add_trace(go.Scatter(x=px, y=py, mode="lines", fill="tozeroy", fillcolor=color, line=dict(color=color, width=.5), xaxis=px_x, yaxis=ya, showlegend=False, connectgaps=False))

def ruler(ticks, t0, t1, sb0, sb1, sby):
    tx, ty = [], []
    for t in ticks:
        tx += [t, t, None]
        ty += [t0, t1, None]
    fig.add_trace(go.Scatter(x=tx, y=ty, mode="lines", line=dict(color="#111111", width=2), xaxis=px_x, yaxis=px_y, showlegend=False))
    fig.add_trace(go.Scatter(x=[sb0, sb1, None, sb0, sb0, None, sb1, sb1], y=[sby, sby, None, sby - 5, sby + 5, None, sby - 5, sby + 5], mode="lines", line=dict(color="#111111", width=2.5), xaxis=px_x, yaxis=px_y, showlegend=False))

def gene_row(ya, y, start, end, exons, widths, utr0, utr1):
    fig.add_trace(go.Scatter(x=[start, end], y=[y, y], mode="lines", line=dict(color="#7a7ac0", width=1.5), xaxis=px_x, yaxis=ya, showlegend=False))
    fig.add_trace(go.Scatter(x=[start, end], y=[y, y], mode="lines", line=dict(color="#5c5cb0", width=6, dash="1px,4px"), xaxis=px_x, yaxis=ya, showlegend=False))
    for c, w in zip(exons, widths):
        fig.add_trace(go.Scatter(x=[c - w / 2, c + w / 2], y=[y, y], mode="lines", line=dict(color=GENE, width=10), xaxis=px_x, yaxis=ya, showlegend=False))
    fig.add_trace(go.Scatter(x=[utr0, utr1], y=[y, y], mode="lines", line=dict(color=GENE, width=6), xaxis=px_x, yaxis=ya, showlegend=False))

# ===================== build =====================
volcano((128.4, 640.3, 34, 493), [-1.95, 1.945], [-3.9, 93.7], [0, 20, 40, 60, 80],
        (a_grey_env_x, a_grey_env_y), (a_grey_x, a_grey_y), [(a_redL_env_x, a_redL_env_y), (a_redR_env_x, a_redR_env_y)], (a_red_x, a_red_y))
volcano((868.1, 1379.5, 34.5, 492.7), [-1.728, 1.728], [-1.64, 41.6], [0, 10, 20, 30, 40],
        (b_grey_env_x, b_grey_env_y), (b_grey_x, b_grey_y), [(b_redL_env_x, b_redL_env_y), (b_redR_env_x, b_redR_env_y)], (b_red_x, b_red_y))
for s, x, y in a_genes + b_genes:
    T(s, x, y, 12, "#111111")
T("3h", 372, 17, 29, bold=True); T("6h", 1128.3, 17, 29, bold=True)
T("143 down", 243.8, 98.2, 24, bold=True); T("64 up", 560.7, 98.2, 24, bold=True)
T("217 down", 958.3, 98.2, 24, bold=True); T("167up", 1279.4, 98.2, 24, bold=True)
T("\u2212Log10(P values)", 54.7, 257, 29, "#222222", rot=-90); T("\u2212Log10(P values)", 797.3, 262.7, 29, "#222222", rot=-90)
T("Log2FC", 355.2, 549, 28, "#222222"); T("Log2FC", 1141.6, 551, 28, "#222222")

c_scale = [[0, "#f6f5fc"], [.12, "#e2e0ea"], [.243, "#c9c5d6"], [.486, "#a59dcf"], [.73, "#6f60a8"], [.86, "#5a4a9c"], [1, "#453b86"]]
d_scale = [[0, "#fdfcfc"], [.2, "#ede6d8"], [.4, "#ecc6bd"], [.6, "#f39078"], [.8, "#f1623b"], [1, "#ee1c25"]]
polar("polar", c_terms, c_nes, 4, [1.9, 2.93, 4], 323, 788, 173, c_scale, 4.11, 651, 689, 875.7, [0, 1, 2, 3, 4], ["0", "1", "2", "3", "4"])
polar("polar2", d_terms, d_nes, 2.5, [2, 2.5], 1078.7, 786.7, 158, d_scale, 2.57, 1415.7, 687, 874.3, [0, .5, 1, 1.5, 2, 2.5], ["0.0", "0.5", "1.0", "1.5", "2.0", "2.5"])
for s, x, y in c_labels + d_labels:
    T(s, x, y, 22, "#444444")
T("Absolute", 670.4, 644, 24.5); T("NES", 670.4, 673, 24.5)
T("Absolute", 1434.5, 644, 24.5); T("NES", 1434.5, 673.3, 24.5)

boxpanel(65.7, 315.4, 1084.3, 1361.7, 1351, 1103.3, e_cats, e_low, e_q1, e_med, e_q3, e_up)
boxpanel(465.2, 714.9, 1083.7, 1360.7, 1350, 1102.7, e_cats, f_low, f_q1, f_med, f_q3, f_up)
boxpanel(870.5, 1120.5, 1083.7, 1360.7, 1350, 1102, g_cats, g_low, g_q1, g_med, g_q3, g_up)
boxpanel(1264.8, 1515.3, 1081.7, 1358.7, 1348.3, 1100, g_cats, h_low, h_q1, h_med, h_q3, h_up)
T("3h\u2212upregulated\u2212genes", 181.6, 1058, 27, "#222222"); T("3h\u2212downregulated\u2212genes", 578.6, 1061, 27, "#222222")
T("6h\u2212upregulated\u2212genes", 992.8, 1062.7, 27, "#222222"); T("6h\u2212downregulated\u2212genes", 1386.6, 1059.3, 27, "#222222")
for x in (16, 415.5, 824.5, 1221):
    T("H3K9ac tags", x, 1217.5, 24, "#222222", rot=-90)
for s, x, y in [("**", 221.4, 1106), ("***", 278.6, 1098), ("*", 617, 1132), ("*", 677.6, 1115), ("**", 1026, 1127), ("**", 1081.9, 1117)]:
    T(s, x, y, 34, bold=True)
T("ns", 1419, 1149.3, 24); T("ns", 1477, 1140, 24)

for s, x, y in [("a", 57, 27), ("b", 791, 25), ("c", 33.4, 593), ("d", 815.6, 588), ("e", 11, 1058), ("f", 393, 1057), ("g", 818, 1055), ("h", 1200, 1057), ("i", 74, 1442), ("j", 78, 1992)]:
    T(s, x, y, 44, bold=True)

# browser i
shapes.append(dict(type="rect", xref="paper", yref="paper", x0=381.9 / W, x1=455.5 / W, y0=1 - 1873.3 / H, y1=1 - 1541 / H, fillcolor="#fbf8b6", line=dict(width=0), layer="below"))
shapes.append(dict(type="rect", xref="paper", yref="paper", x0=360.5 / W, x1=616.2 / W, y0=1 - 2443 / H, y1=1 - 2112.3 / H, fillcolor="#fbf8b6", line=dict(width=0), layer="below"))
ideogram(1451.7, 1466, chr1_start, chr1_end, chr1_col, 814.7, 853.4, 224.2, 1446.7, 1470.7)
ideogram(1994.3, 2010, chr12_start, chr12_end, chr12_col, 506.3, 553.5, 279.9, 1990, 2014)
T("chr1", 137, 1457.3, 23, "#222222"); T("chr12", 138, 2000.7, 24, "#222222")
ruler(i_ticks, 1526.7, 1538.3, 675, 1010, 1520)
ruler(j_ticks, 2096.7, 2108.3, 628.7, 1055, 2090)
T("10 kb", 839.7, 1505, 22, "#222222"); T("5 kb", 842, 2071.7, 22, "#222222")
for xv, y0, y1 in ((186.4, 1513, 1882.7), (186.9, 2082.7, 2450)):
    fig.add_trace(go.Scatter(x=[xv, xv], y=[y0, y1], mode="lines", line=dict(color="#f2b8b8", width=1.5), xaxis=px_x, yaxis=px_y, showlegend=False))

cols = [TRED, TRED, TBLUE, TBLUE, TPURPLE, TPURPLE]
i_base = [1593.3, 1649.3, 1705.3, 1761.3, 1817.3, 1873.3]
j_base = [2162.7, 2219, 2275, 2331, 2387, 2443]
i_data = [(i1_seg, i1_px, i1_py), (i2_seg, i2_px, i2_py), (i3_seg, i3_px, i3_py), (i4_seg, i4_px, i4_py), (i5_seg, i5_px, i5_py), (i6_seg, i6_px, i6_py)]
j_data = [(j1_seg, j1_px, j1_py), (j2_seg, j2_px, j2_py), (j3_seg, j3_px, j3_py), (j4_seg, j4_px, j4_py), (j5_seg, j5_px, j5_py), (j6_seg, j6_px, j6_py)]
for b, c, d in zip(i_base, cols, i_data):
    track(b, c, *d)
for b, c, d in zip(j_base, cols, j_data):
    track(b, c, *d)
for yy, c, segs in zip(j_far_rows, cols, j_far_seg):
    sx, sy = [], []
    for a, b in segs:
        sx += [a, b, None]; sy += [yy, yy, None]
    fig.add_trace(go.Scatter(x=sx, y=sy, mode="lines", line=dict(color=c, width=3), xaxis=px_x, yaxis=px_y, showlegend=False))
fig.add_trace(go.Scatter(x=[1447.8, 1447.8], y=[2023, 2033], mode="lines", line=dict(color="#111111", width=1.5), xaxis=px_x, yaxis=px_y, showlegend=False))

for y, c in zip([1541.7, 1598.3, 1653.3, 1709.3, 1765.7, 1821.7], cols):
    T("100", 160.5, y, 20, c)
for y, c in zip([2112, 2168.3, 2224.3, 2280, 2336, 2392], cols):
    T("100", 160.5, y, 20, c)
reps = ["UT-rep1", "UT-rep2", "3h-rep1", "3h-rep2", "6h-rep1", "6h-rep2"]
for s, c, x, y in zip(reps, cols, [845, 846, 844.6, 842, 844.6, 845], [1541.7, 1602.7, 1663.3, 1717.7, 1772.7, 1827.3]):
    T(s, x, y, 21.5, c)
for s, c, x, y in zip(reps, cols, [834.8, 835.8, 834.8, 831.9, 834.8, 835.3], [2113.3, 2174.3, 2235, 2289.3, 2344, 2398.7]):
    T(s, x, y, 21.5, c)
for s, c, y in [("peak score=730", TRED, 1552.3), ("peak score=1021", TBLUE, 1661.3), ("peak score=881", TPURPLE, 1774)]:
    T(s, 190, y, 21, c, anchor="left")
for s, c, y in [("peak score=147", TRED, 2119.3), ("peak score=185", TBLUE, 2233.3), ("peak score=127", TPURPLE, 2344)]:
    T(s, 192.3, y, 21, c, anchor="left")
for s, c, x, y in [("FPKM = 1.25", TRED, 716.7, 1562.3), ("FPKM = 1.70", TBLUE, 719.2, 1676.7), ("FPKM = 1.83", TPURPLE, 719.2, 1782),
                   ("FPKM = 4.50", TRED, 1028, 2135.7), ("FPKM = 2.84", TBLUE, 1031, 2249.3), ("FPKM = 2.45", TPURPLE, 1031, 2355.7)]:
    T(s, x, y, 21.5, c)

# gene models
_, ga = axes(0, 0, 1889, 1922, None, [-1, 2], share_x=px_x)
gene_row(ga, 1, 410, 852, tm_row1_exons, tm_row1_widths, 852, 945)
gene_row(ga, 0, 410, 1215, tm_row2_exons, tm_row2_widths, 1215, 1278)
T("TMEM201", 354.5, 1905, 21, GENE)
_, gb = axes(0, 0, 2464.4, 2481, None, [-1, 1], share_x=px_x)
gene_row(gb, 0, 434, 1166.5, gab_exons, gab_widths, 1166.5, 1277.5)
fig.add_trace(go.Scatter(x=[406.8, 434], y=[0, 0], mode="lines", line=dict(color=GENE, width=6), xaxis=px_x, yaxis=gb, showlegend=False))
T("GABARAPL1", 335, 2467, 21, GENE)

fig.update_layout(width=W, height=H, margin=dict(l=0, r=0, t=0, b=0), paper_bgcolor="#ffffff", plot_bgcolor="rgba(0,0,0,0)",
                  barmode="overlay", boxmode="overlay", showlegend=False, font=dict(family=FONT), annotations=ann, shapes=shapes, **layout)
fig.write_html("out.html", config=dict(displayModeBar=False), post_script="document.body.style.margin='0';document.documentElement.style.overflow='hidden';")
